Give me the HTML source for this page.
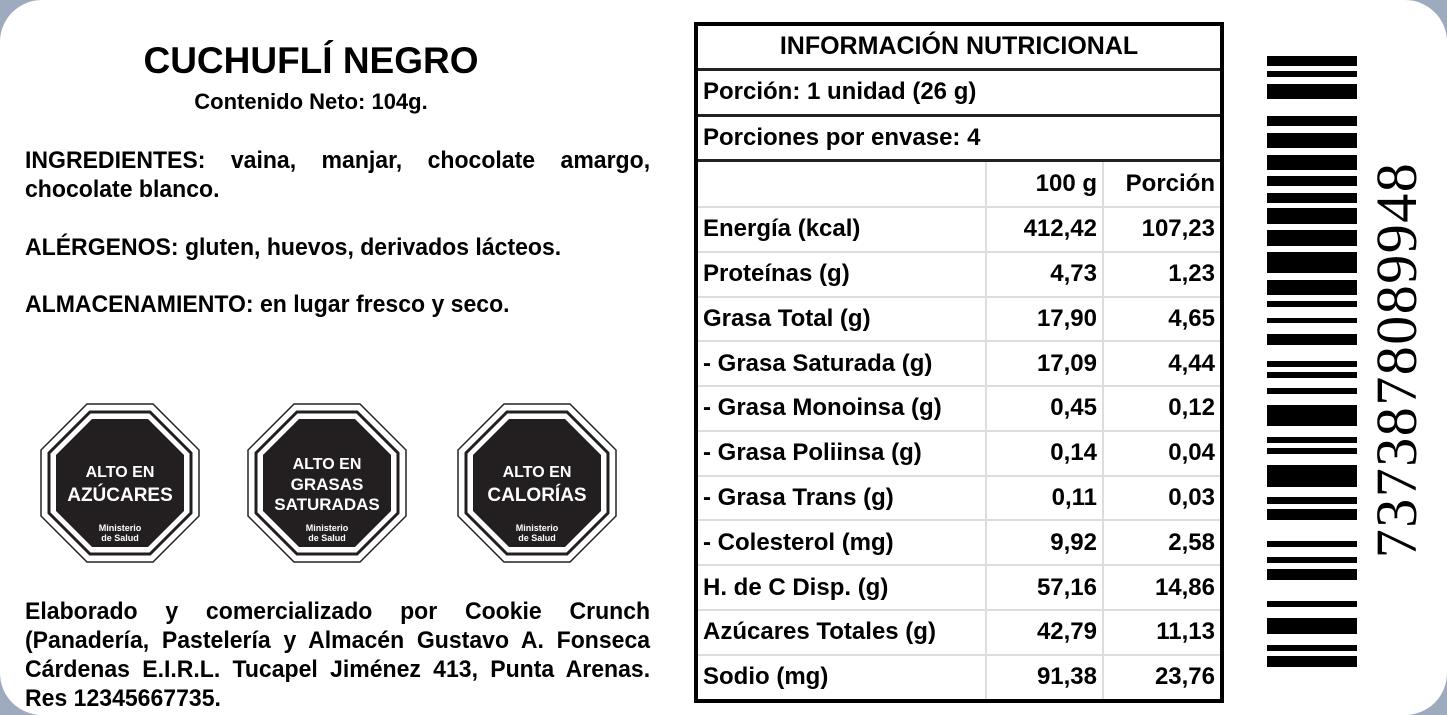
<!DOCTYPE html>
<html><head><meta charset="utf-8"><style>
body{margin:0;width:1447px;height:715px;background:#9eabbf;overflow:hidden;font-family:"Liberation Sans",sans-serif;}
.card{position:absolute;left:0;top:0;width:1447px;height:715px;background:#fff;border-radius:42px;}
.t{position:absolute;font-weight:bold;color:#000;}
.n{position:absolute;left:25px;width:665px;font-weight:bold;font-size:24.5px;line-height:29px;transform:scaleX(0.94);transform-origin:0 0;}
.n div{text-align:justify;text-align-last:justify;height:29px;white-space:nowrap;}
table{position:absolute;left:694px;top:22px;width:530px;height:681px;border-collapse:collapse;border:4px solid #000;font-weight:bold;font-size:24px;}
td{padding:0 5px;border-bottom:2px solid #ddd;}
td.c{border-left:2px solid #ddd;text-align:right;}
tr.h td{border-bottom:3px solid #222;}
.bars div{position:absolute;left:1267px;width:90px;background:#000;}
</style></head><body>
<div class="card"></div>
<div class="t" style="left:0;width:622px;top:40px;text-align:center;font-size:37px;">CUCHUFLÍ NEGRO</div>
<div class="t" style="left:0;width:622px;top:89px;text-align:center;font-size:22px;">Contenido Neto: 104g.</div>
<div class="n" style="top:146px;"><div style="white-space:normal">INGREDIENTES: vaina, manjar, chocolate amargo,</div><div style="text-align-last:left">chocolate blanco.</div></div>
<div class="n" style="top:233px;"><div style="text-align-last:left">ALÉRGENOS: gluten, huevos, derivados lácteos.</div></div>
<div class="n" style="top:290px;"><div style="text-align-last:left">ALMACENAMIENTO: en lugar fresco y seco.</div></div>
<div class="n" style="top:597px;">
<div style="white-space:normal">Elaborado y comercializado por Cookie Crunch</div>
<div style="white-space:normal">(Panadería, Pastelería y Almacén Gustavo A. Fonseca</div>
<div style="white-space:normal">Cárdenas E.I.R.L. Tucapel Jiménez 413, Punta Arenas.</div>
<div style="text-align-last:left">Res 12345667735.</div>
</div>

<svg style="position:absolute;left:0;top:0" width="700" height="715">
<defs>
<g id="oct">
<polygon points="47,1 113,1 159,47 159,113 113,159 47,159 1,113 1,47" fill="#fff" stroke="#222" stroke-width="1.5"/>
<polygon points="50,9 110,9 151,50 151,110 110,151 50,151 9,110 9,50" fill="#fff" stroke="#231f20" stroke-width="3"/>
<polygon points="52,16 108,16 144,52 144,108 108,144 52,144 16,108 16,52" fill="#231f20"/>
</g>
</defs>
<g font-family="Liberation Sans,sans-serif" font-weight="bold" fill="#fff" text-anchor="middle">
<use href="#oct" x="40" y="403"/>
<text x="120" y="477" font-size="16">ALTO EN</text>
<text x="120" y="501" font-size="19">AZÚCARES</text>
<text x="120" y="531" font-size="9">Ministerio</text><text x="120" y="541" font-size="9">de Salud</text>
<use href="#oct" x="247" y="403"/>
<text x="327" y="469" font-size="16">ALTO EN</text>
<text x="327" y="490" font-size="17">GRASAS</text>
<text x="327" y="510" font-size="17">SATURADAS</text>
<text x="327" y="531" font-size="9">Ministerio</text><text x="327" y="541" font-size="9">de Salud</text>
<use href="#oct" x="457" y="403"/>
<text x="537" y="477" font-size="16">ALTO EN</text>
<text x="537" y="501" font-size="19">CALORÍAS</text>
<text x="537" y="531" font-size="9">Ministerio</text><text x="537" y="541" font-size="9">de Salud</text>
</g>
</svg>

<table>
<tr class="h" style="height:45px"><td colspan="3" style="text-align:center;font-size:25px">INFORMACIÓN NUTRICIONAL</td></tr>
<tr class="h" style="height:46px"><td colspan="3">Porción: 1 unidad (26 g)</td></tr>
<tr class="h" style="height:45px"><td colspan="3">Porciones por envase: 4</td></tr>
<tr style="height:47px"><td style="width:277px"></td><td class="c" style="width:105px">100 g</td><td class="c">Porción</td></tr>
<tr><td>Energía (kcal)</td><td class="c">412,42</td><td class="c">107,23</td></tr>
<tr><td>Proteínas (g)</td><td class="c">4,73</td><td class="c">1,23</td></tr>
<tr><td>Grasa Total (g)</td><td class="c">17,90</td><td class="c">4,65</td></tr>
<tr><td>- Grasa Saturada (g)</td><td class="c">17,09</td><td class="c">4,44</td></tr>
<tr><td>- Grasa Monoinsa (g)</td><td class="c">0,45</td><td class="c">0,12</td></tr>
<tr><td>- Grasa Poliinsa (g)</td><td class="c">0,14</td><td class="c">0,04</td></tr>
<tr><td>- Grasa Trans (g)</td><td class="c">0,11</td><td class="c">0,03</td></tr>
<tr><td>- Colesterol (mg)</td><td class="c">9,92</td><td class="c">2,58</td></tr>
<tr><td>H. de C Disp. (g)</td><td class="c">57,16</td><td class="c">14,86</td></tr>
<tr><td>Azúcares Totales (g)</td><td class="c">42,79</td><td class="c">11,13</td></tr>
<tr><td style="border-bottom:0">Sodio (mg)</td><td class="c" style="border-bottom:0">91,38</td><td class="c" style="border-bottom:0">23,76</td></tr>
</table>

<div class="bars">
<div style="top:56px;height:10px"></div><div style="top:71px;height:6px"></div><div style="top:84px;height:15px"></div>
<div style="top:116px;height:10px"></div><div style="top:133px;height:15px"></div><div style="top:155px;height:15px"></div>
<div style="top:176px;height:10px"></div><div style="top:193px;height:10px"></div><div style="top:208px;height:16px"></div>
<div style="top:230px;height:16px"></div><div style="top:252px;height:21px"></div><div style="top:280px;height:15px"></div>
<div style="top:301px;height:6px"></div><div style="top:318px;height:5px"></div><div style="top:334px;height:11px"></div>
<div style="top:361px;height:6px"></div><div style="top:372px;height:6px"></div><div style="top:388px;height:6px"></div>
<div style="top:405px;height:21px"></div><div style="top:437px;height:6px"></div><div style="top:448px;height:6px"></div>
<div style="top:465px;height:22px"></div><div style="top:497px;height:7px"></div><div style="top:509px;height:11px"></div>
<div style="top:541px;height:6px"></div><div style="top:557px;height:6px"></div><div style="top:569px;height:11px"></div>
<div style="top:601px;height:6px"></div><div style="top:618px;height:16px"></div><div style="top:645px;height:6px"></div>
<div style="top:656px;height:11px"></div>
</div>
<div style="position:absolute;left:1397px;top:360px;width:0;height:0;">
<div style="position:absolute;left:-200px;top:-30px;width:400px;height:60px;line-height:60px;text-align:center;transform:rotate(-90deg);font-family:'Liberation Serif',serif;font-size:58px;letter-spacing:1.5px;color:#000;">7373878089948</div>
</div>
</body></html>
